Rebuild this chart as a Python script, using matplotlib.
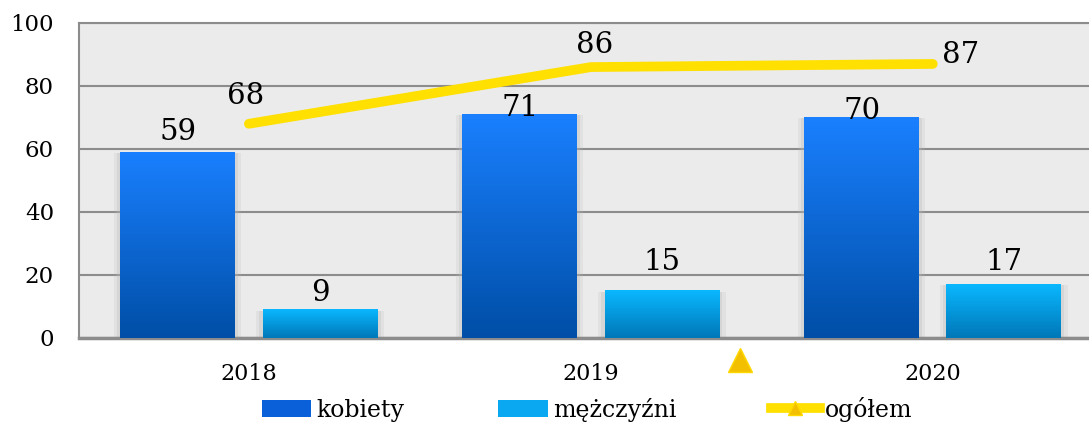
import numpy as np
import matplotlib
matplotlib.use("Agg")
import matplotlib.pyplot as plt
from matplotlib.lines import Line2D
from matplotlib.patches import Patch

# dane
lata = ["2018", "2019", "2020"]
kobiety = [59, 71, 70]
mezczyzni = [9, 15, 17]
ogolem = [68, 86, 87]
nazwy = ["kobiety", "mężczyźni", "ogółem"]

plt.rcParams["font.family"] = ["DejaVu Serif"]

fig = plt.figure(figsize=(10.89, 4.28), dpi=100)
ax = fig.add_axes([0.0725, 0.2103, 0.942, 0.736])
ax.set_facecolor("#ebebeb")

x = np.arange(len(lata))
szer = 0.336
przes = 0.208
# odstęp etykiet nad słupkami (w jednostkach osi y)
odst_k = [1.8, -2.3, -2.3]
odst_m = [0.8, 4.8, 2.6]


def slupek_gradient(ax, xc, h, gora, dol):
    # słupek z gradientem pionowym + miękki cień
    for d, a in [(0.018, 0.18), (0.009, 0.28)]:
        ax.bar(xc, h + 0.5, width=szer + 2 * d, bottom=-0.8, color="#b8b8b8",
               alpha=a, zorder=2, lw=0)
    grad = np.linspace(0, 1, 256).reshape(-1, 1)
    c1 = np.array(matplotlib.colors.to_rgb(gora))
    c2 = np.array(matplotlib.colors.to_rgb(dol))
    img = c1 + (c2 - c1) * grad[:, :, None] * np.ones((1, 1, 3))
    ax.imshow(img, extent=[xc - szer / 2, xc + szer / 2, 0, h],
              aspect="auto", origin="upper", zorder=3)


for i in x:
    slupek_gradient(ax, i - przes, kobiety[i], "#1a80ff", "#004ea6")
    slupek_gradient(ax, i + przes, mezczyzni[i], "#0ab8ff", "#0077b8")
    ax.text(i - przes, kobiety[i] + odst_k[i], str(kobiety[i]), ha="center",
            va="bottom", fontsize=21, zorder=6)
    ax.text(i + przes, mezczyzni[i] + odst_m[i], str(mezczyzni[i]), ha="center",
            va="bottom", fontsize=21, zorder=6)

ax.plot(x, ogolem, color="#ffe000", lw=7, solid_capstyle="round",
        solid_joinstyle="round", zorder=5)
ax.text(x[0] - 0.01, ogolem[0] + 4.5, str(ogolem[0]), ha="center", va="bottom", fontsize=21, zorder=6)
ax.text(x[1] + 0.01, ogolem[1] + 2.5, str(ogolem[1]), ha="center", va="bottom", fontsize=21, zorder=6)
ax.text(x[2] + 0.08, ogolem[2] - 1.5, str(ogolem[2]), ha="center", va="bottom", fontsize=21, zorder=6)

# zagubiony znacznik serii ogółem pod osią
ax.plot([1.436], [-7.0], marker="^", ms=17, color="#f2c000", mec="#ffd800",
        clip_on=False, zorder=6)

ax.set_xlim(-0.497, 2.503)
ax.set_ylim(0, 100)
ax.set_yticks(range(0, 101, 20))
ax.set_xticks(x)
ax.set_xticklabels(lata, fontsize=16)
ax.tick_params(axis="y", labelsize=16.5, length=0, pad=18)
ax.tick_params(axis="x", length=0, pad=18)
ax.grid(axis="y", color="#8c8c8c", lw=1.5, zorder=1)
ax.set_axisbelow(True)
for s in ["left", "bottom", "top", "right"]:
    ax.spines[s].set_color("#8c8c8c")
    ax.spines[s].set_linewidth(1.5)
ax.spines["bottom"].set_linewidth(2.5)

uchwyty = [
    Patch(facecolor="#0a60d8", edgecolor="none"),
    Patch(facecolor="#0aa8f0", edgecolor="none"),
    Line2D([], [], color="#ffe000", lw=7, marker="^", ms=10,
           mfc="#f2c000", mec="#ffd800"),
]
fig.legend(uchwyty, nazwy, loc="lower center", bbox_to_anchor=(0.539, -0.035),
           ncol=3, frameon=False, fontsize=17, columnspacing=4.0,
           handlelength=2.1, handletextpad=0.2, handleheight=0.7)

fig.savefig("out.png", dpi=100)
